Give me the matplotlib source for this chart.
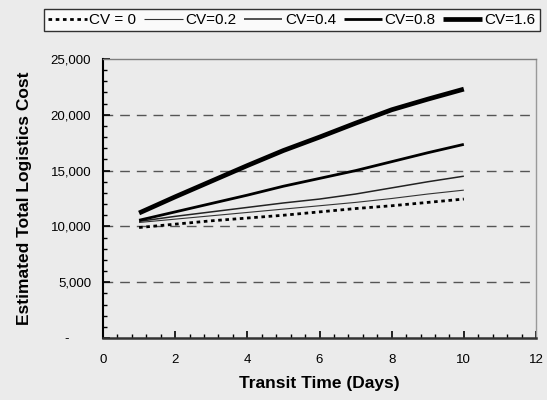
import matplotlib
matplotlib.use("Agg")
import matplotlib.pyplot as plt
from matplotlib.ticker import MultipleLocator, FuncFormatter

plt.rcParams['font.family'] = ['Liberation Sans', 'DejaVu Sans']

transit_days = [1, 2, 3, 4, 5, 6, 7, 8, 9, 10]
cv_labels = ["CV = 0", "CV=0.2", "CV=0.4", "CV=0.8", "CV=1.6"]
cv0 = [9900, 10200, 10500, 10750, 11000, 11300, 11600, 11850, 12150, 12450]
cv02 = [10350, 10650, 10950, 11250, 11550, 11850, 12150, 12500, 12900, 13250]
cv04 = [10450, 10900, 11300, 11700, 12100, 12450, 12900, 13450, 14000, 14500]
cv08 = [10550, 11300, 12050, 12800, 13600, 14300, 15000, 15800, 16600, 17350]
cv16 = [11200, 12650, 14050, 15450, 16800, 18000, 19250, 20450, 21400, 22300]

bg = '#ebebeb'
fig = plt.figure(figsize=(5.47, 4.0), dpi=100, facecolor=bg)
ax = fig.add_axes([103/547, 62/400, (536-103)/547, (338-59)/400])
ax.set_facecolor(bg)

styles = [
    dict(color='black', lw=2.0, dashes=(1.3, 1.3)),
    dict(color='#333333', lw=0.8),
    dict(color='#222222', lw=1.1),
    dict(color='black', lw=2.0),
    dict(color='black', lw=3.4),
]
series = [cv0, cv02, cv04, cv08, cv16]
handles = []
for lab, vals, st in zip(cv_labels, series, styles):
    st = dict(st)
    dashes = st.pop('dashes', None)
    ln, = ax.plot(transit_days, vals, label=lab, solid_capstyle='butt', **st)
    if dashes is not None:
        ln.set_dashes(dashes)
    handles.append(ln)

ax.set_xlim(0, 12)
ax.set_ylim(0, 25000)
ax.xaxis.set_major_locator(MultipleLocator(2))
ax.xaxis.set_minor_locator(MultipleLocator(0.4))
ax.yaxis.set_major_locator(MultipleLocator(5000))
ax.yaxis.set_minor_locator(MultipleLocator(1000))
ax.yaxis.set_major_formatter(FuncFormatter(lambda v, p: "-      " if v == 0 else f"{int(v):,}"))

for gy in [5000, 10000, 15000, 20000]:
    ax.axhline(gy, color='#555555', lw=1.0, dashes=(7, 5), zorder=0.5)

ax.tick_params(axis='both', which='both', direction='in', colors='black', labelsize=9.5)
ax.tick_params(axis='both', which='major', length=5, width=1.2)
ax.tick_params(axis='both', which='minor', length=3, width=1.0)
ax.tick_params(axis='y', which='major', pad=8.5)
ax.tick_params(axis='x', which='major', pad=11.5)

ax.spines['left'].set_color('black')
ax.spines['left'].set_linewidth(1.5)
ax.spines['bottom'].set_color('#333333')
ax.spines['bottom'].set_linewidth(1.8)
ax.spines['top'].set_color('#7f7f7f')
ax.spines['top'].set_linewidth(1.0)
ax.spines['right'].set_color('#999999')
ax.spines['right'].set_linewidth(1.0)

ax.set_xlabel("Transit Time (Days)", fontsize=12.5, fontweight='bold')
ax.set_ylabel("Estimated Total Logistics Cost", fontsize=12.5, fontweight='bold')
ax.xaxis.set_label_coords(0.5, (338 - 376) / 279)
ax.yaxis.set_label_coords((32 - 103) / 433, 0.5)

leg = fig.legend(handles=handles, labels=cv_labels, loc='upper left',
                 bbox_to_anchor=(44/547, 1 - 9/400), ncol=5, fontsize=11,
                 handlelength=2.53, handletextpad=0.16, columnspacing=0.5,
                 frameon=True, fancybox=False, borderpad=0.27, borderaxespad=0)
leg.get_frame().set_edgecolor('black')
leg.get_frame().set_linewidth(1.0)
leg.get_frame().set_facecolor('white')

fig.savefig("out.png", dpi=100, facecolor=bg)
